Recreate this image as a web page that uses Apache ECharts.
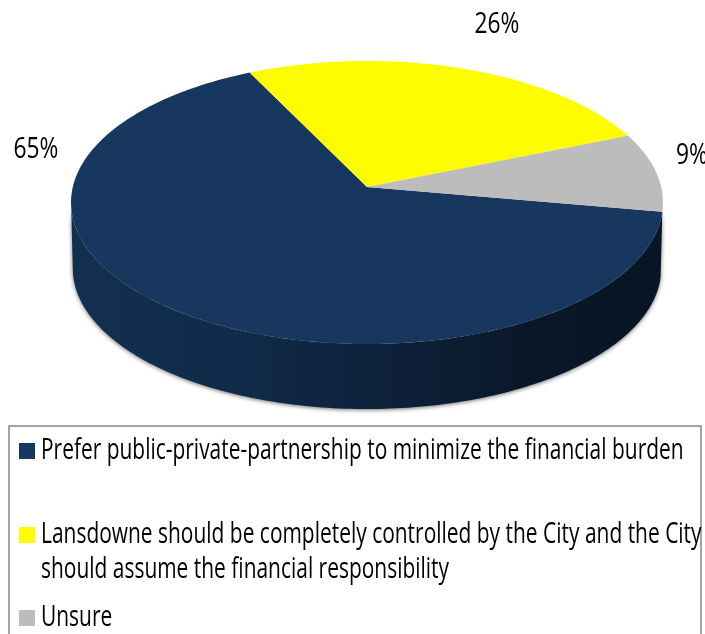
<!DOCTYPE html>
<html>
<head>
<meta charset="utf-8">
<style>html,body{margin:0;padding:0;background:#fff}#chart{width:705px;height:634px}</style>
<script src="https://cdn.jsdelivr.net/npm/echarts@6/dist/echarts.min.js"></script>
</head>
<body>
<div id="chart"></div>
<script>
// Survey shares, one entry per answer
const categories = [
  'Prefer public-private-partnership to minimize the financial burden',
  'Lansdowne should be completely controlled by the City and the City\nshould assume the financial responsibility',
  'Unsure'
];
const shares = [65, 26, 9];
const sliceColors = ['#17375e', '#fdfd00', '#bcbcbc'];
const sliceLabels = ['65%', '26%', '9%'];
const labelAnchors = [[36, 149], [497, 24], [692, 155]];

// Tilted-disc projection: the pie centre sits above the middle of the ellipse
const disc = { cx: 367, cy: 187, a: 294.2, b: 139.8, k: 0.1095, depth: 66, baseScale: 0.994 };
const startAngle = -10; // degrees, slices run clockwise from here

// Condensed lettering: a humanist face narrowed horizontally
const FONT = '"Open Sans"';
const labelType = { size: 30, narrow: 0.76 };
const keyType = { size: 29, narrow: 0.722, lineHeight: 35 };
const keyBox = { left: 9, top: 426, right: 701, bottom: 634 };
const keyRows = [451, 535, 618]; // swatch centre for each answer

function project(deg, drop) {
  const t = deg * Math.PI / 180;
  const w = 1 + disc.k * Math.sin(t);
  const s = drop ? disc.baseScale : 1;
  return [
    disc.cx + s * disc.a * Math.cos(t) / w,
    disc.cy - s * disc.b * Math.sin(t) / w + (drop ? disc.depth : 0)
  ];
}

const total = shares.reduce((p, v) => p + v, 0);
function sliceRange(i) {
  const before = shares.slice(0, i).reduce((p, v) => p + v, 0);
  return [startAngle - before / total * 360, startAngle - (before + shares[i]) / total * 360];
}

function arc(from, to, drop) {
  const pts = [];
  const n = Math.max(2, Math.ceil(Math.abs(to - from)));
  for (let j = 0; j <= n; j++) pts.push(project(from + (to - from) * j / n, drop));
  return pts;
}

// Rim wall, kept to the stretch of the slice that faces the viewer
function wallFor(from, to) {
  const edge = Math.asin(disc.k) * 180 / Math.PI;
  const right = -edge, left = -180 + edge;
  const a = Math.min(from, right), b = Math.max(to, left);
  return a > b ? arc(a, b, false).concat(arc(b, a, true)) : null;
}

const wallFill = new echarts.graphic.LinearGradient(0, 0, 1, 0, [
  { offset: 0, color: '#12304f' },
  { offset: 0.3, color: '#102a49' },
  { offset: 0.55, color: '#0e2039' },
  { offset: 0.8, color: '#091727' },
  { offset: 1, color: '#081525' }
]);

function sliceSeries(i) {
  return {
    type: 'custom',
    name: categories[i],
    coordinateSystem: 'none',
    itemStyle: { color: sliceColors[i] },
    data: [shares[i]],
    z: 2,
    renderItem: function () {
      const [from, to] = sliceRange(i);
      const children = [];
      const wall = wallFor(from, to);
      if (wall && i === 0) {
        children.push({
          type: 'polygon',
          shape: { points: wall },
          style: { fill: wallFill, shadowColor: 'rgba(0,0,0,0.55)', shadowBlur: 4, shadowOffsetY: 1 }
        });
      }
      children.push({
        type: 'polygon',
        shape: { points: [[disc.cx, disc.cy]].concat(arc(from, to, false)) },
        style: { fill: sliceColors[i] }
      });
      children.push({
        type: 'text',
        x: labelAnchors[i][0],
        y: labelAnchors[i][1],
        scaleX: labelType.narrow,
        style: {
          text: sliceLabels[i],
          fill: '#000',
          font: labelType.size + 'px ' + FONT,
          align: 'center',
          verticalAlign: 'middle'
        }
      });
      return { type: 'group', children: children };
    }
  };
}

// The key: open-bottomed frame, square swatches and narrowed captions
const keyElements = [{
  type: 'polyline',
  shape: { points: [[keyBox.left, keyBox.bottom], [keyBox.left, keyBox.top], [keyBox.right, keyBox.top], [keyBox.right, keyBox.bottom]] },
  style: { fill: 'none', stroke: '#858585', lineWidth: 1.5 }
}];
categories.forEach((name, i) => {
  keyElements.push({
    type: 'rect',
    shape: { x: 19, y: keyRows[i] - 8, width: 16, height: 16 },
    style: { fill: sliceColors[i] }
  });
  keyElements.push({
    type: 'text',
    x: 41,
    y: keyRows[i] - keyType.lineHeight / 2,
    scaleX: keyType.narrow,
    style: {
      text: name,
      fill: '#000',
      font: keyType.size + 'px ' + FONT,
      lineHeight: keyType.lineHeight,
      align: 'left',
      verticalAlign: 'top'
    }
  });
});

const chart = echarts.init(document.getElementById('chart'), null, { renderer: 'canvas' });
chart.setOption({
  animation: false,
  backgroundColor: '#fff',
  graphic: { elements: keyElements },
  series: categories.map((c, i) => sliceSeries(i))
});
</script>
</body>
</html>
